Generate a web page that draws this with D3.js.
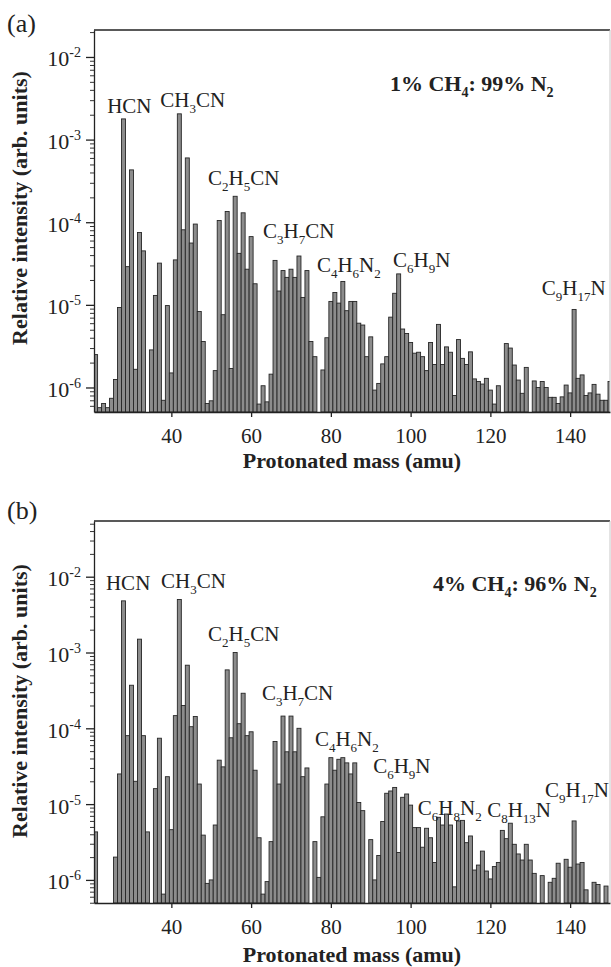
<!DOCTYPE html>
<html>
<head>
<meta charset="utf-8">
<script src="https://cdn.jsdelivr.net/npm/d3@7"></script>
<style>
  body { margin: 0; background: #fff; }
  svg { display: block; }
  text { font-family: "Liberation Serif", "Times New Roman", serif; fill: #222; }
</style>
</head>
<body>
<svg id="chart" width="611" height="967"></svg>
<script>
// protonated masses run 21, 22, ... 150 (one value per amu, 0 = no bar)
const firstMass = 21;

const intensityA = [
  2.5e-6, 5.7e-7, 6.4e-7, 5.7e-7, 7.4e-7, 1.25e-6, 9.3e-6, 1.78e-3, 2.9e-5, 4.3e-4,   // 21-30
  1.66e-6, 7.5e-5, 4.5e-5, 0, 2.85e-6, 1.3e-5, 3.2e-5, 7e-7, 9.8e-6, 1.5e-6,          // 31-40
  3.5e-5, 2.05e-3, 8.1e-5, 6e-4, 5.6e-5, 9.5e-5, 8.3e-6, 3.6e-6, 6.4e-7, 6.9e-7,      // 41-50
  1.6e-6, 1.05e-4, 7.6e-6, 1.35e-4, 1.7e-6, 2.06e-4, 4.2e-5, 1.3e-4, 2.7e-5, 6.7e-5,  // 51-60
  1.8e-5, 6.3e-7, 1.05e-6, 6.7e-7, 1.45e-6, 3.45e-5, 1.47e-5, 2.6e-5, 2.15e-5, 2.7e-5, // 61-70
  2.15e-5, 3.9e-5, 1.23e-5, 2.6e-5, 3.6e-6, 2.36e-6, 0, 1.63e-6, 4.0e-6, 1.1e-5,      // 71-80
  1.41e-5, 1.05e-5, 1.92e-5, 8.5e-6, 1.1e-5, 1.1e-5, 6.0e-6, 5.7e-6, 2.36e-6, 4.1e-6, // 81-90
  9.3e-7, 1.12e-6, 1.93e-6, 2.36e-6, 7.1e-6, 1.38e-5, 2.37e-5, 5.1e-6, 4.5e-6, 3.5e-6, // 91-100
  2.6e-6, 2.67e-6, 2.36e-6, 1.6e-6, 3.5e-6, 1.9e-6, 5.8e-6, 1.9e-6, 3.1e-6, 2.67e-6,  // 101-110
  8.0e-7, 3.8e-6, 2.25e-6, 1.9e-6, 2.7e-6, 1.27e-6, 1.18e-6, 1.1e-6, 1.29e-6, 9.3e-7, // 111-120
  6.3e-7, 1.05e-6, 0, 3.4e-6, 3.0e-6, 1.87e-6, 1.23e-6, 8.5e-7, 1.75e-6, 0,           // 121-130
  1.2e-6, 1.0e-6, 1.18e-6, 1.0e-6, 7.6e-7, 7.6e-7, 6.4e-7, 7.7e-7, 1.07e-6, 8.6e-7,   // 131-140
  8.8e-6, 1.29e-6, 1.42e-6, 8.0e-7, 8.6e-7, 1.09e-6, 8.3e-7, 7.0e-7, 7.0e-7, 1.18e-6  // 141-150
];

const intensityB = [
  4.3e-6, 0, 0, 0, 0, 2.0e-6, 2.5e-5, 4.8e-3, 8e-5, 3.7e-4,                           // 21-30
  2.0e-5, 1.5e-3, 8e-5, 4.3e-6, 0, 1.6e-5, 7.4e-5, 6.5e-7, 2.3e-5, 4.6e-6,            // 31-40
  1.47e-4, 5.0e-3, 2.0e-4, 6.8e-4, 1.05e-4, 1.43e-4, 1.84e-5, 3.9e-6, 9e-7, 1.0e-6,   // 41-50
  5.3e-6, 3.8e-5, 3.1e-5, 5.9e-4, 7.5e-5, 1.0e-3, 1.15e-4, 2.9e-4, 8e-5, 9e-5,        // 51-60
  2.8e-5, 3.6e-6, 6.5e-7, 9.5e-7, 3.2e-6, 6.7e-5, 1.84e-5, 1.45e-4, 4.9e-5, 1.45e-4,  // 61-70
  4.9e-5, 1.0e-4, 2.3e-5, 3.0e-5, 0, 3.2e-6, 1.08e-6, 6.8e-6, 1.84e-5, 4.1e-5,        // 71-80
  2.8e-5, 3.9e-5, 4.1e-5, 3.5e-5, 2.5e-5, 3.5e-5, 1.05e-5, 8.2e-6, 0, 3.4e-6,         // 81-90
  1.0e-6, 2.1e-6, 5.9e-6, 1.39e-5, 1.49e-5, 1.66e-5, 2.3e-6, 1.23e-5, 1.36e-5, 9.7e-6, // 91-100
  4.9e-6, 4.9e-6, 2.7e-6, 4.8e-6, 3.6e-6, 1.7e-6, 6.7e-6, 5.3e-6, 7.4e-6, 5.3e-6,     // 101-110
  8.1e-7, 6.0e-6, 6.1e-6, 3.1e-6, 3.8e-6, 1.35e-6, 1.57e-6, 2.4e-6, 1.31e-6, 1.03e-6, // 111-120
  1.5e-6, 1.7e-6, 4.5e-6, 3.5e-6, 5.6e-6, 2.95e-6, 2.2e-6, 1.83e-6, 2.95e-6, 1.83e-6, // 121-130
  1.22e-6, 0, 1.14e-6, 0, 9.3e-7, 1.05e-6, 1.66e-6, 0, 1.87e-6, 1.47e-6,              // 131-140
  6.0e-6, 1.62e-6, 1.7e-6, 7.4e-7, 0, 9.3e-7, 8.7e-7, 0, 8.3e-7, 0                    // 141-150
];

const massTicks = [40, 60, 80, 100, 120, 140];
const decadeTicks = [1e-6, 1e-5, 1e-4, 1e-3, 1e-2];
const decadeLabels = ["-6", "-5", "-4", "-3", "-2"];

// peak assignments, anchored at (mass, intensity) of the text start / baseline
const labelsA = [
  { text: "HCN", mass: 23.9, value: 2.1e-3 },
  { text: "CH_3CN", mass: 37.2, value: 2.5e-3 },
  { text: "C_2H_5CN", mass: 49.2, value: 2.85e-4 },
  { text: "C_3H_7CN", mass: 63.0, value: 6.5e-5 },
  { text: "C_4H_6N_2", mass: 76.5, value: 2.5e-5 },
  { text: "C_6H_9N", mass: 95.6, value: 2.9e-5 },
  { text: "C_9H_17N", mass: 132.9, value: 1.32e-5 }
];
const labelsB = [
  { text: "HCN", mass: 23.6, value: 6.7e-3 },
  { text: "CH_3CN", mass: 37.4, value: 7.1e-3 },
  { text: "C_2H_5CN", mass: 49.2, value: 1.42e-3 },
  { text: "C_3H_7CN", mass: 62.7, value: 2.36e-4 },
  { text: "C_4H_6N_2", mass: 76.0, value: 5.85e-5 },
  { text: "C_6H_9N", mass: 90.6, value: 2.57e-5 },
  { text: "C_6H_8N_2", mass: 101.8, value: 7.2e-6 },
  { text: "C_8H_13N", mass: 119.2, value: 6.8e-6 },
  { text: "C_9H_17N", mass: 133.7, value: 1.24e-5 }
];

const svg = d3.select("#chart");
const massDomain = [20.6, 150];
const plotLeft = 94, plotRight = 610;

// write a formula like C_2H_5CN with subscripts
function formula(sel, str, subSize, shift) {
  const parts = str.split(/_(\d+)/);
  let down = false;
  parts.forEach((p, i) => {
    if (!p) return;
    const t = sel.append("tspan").text(p);
    if (i % 2 === 1) {
      t.attr("font-size", subSize).attr("dy", down ? 0 : shift);
      down = true;
    } else {
      t.attr("dy", down ? -shift : 0);
      down = false;
    }
  });
}

function drawPanel(cfg) {
  const g = svg.append("g");
  const x = d3.scaleLinear().domain(massDomain).range([plotLeft, plotRight]);
  const y = d3.scaleLog().domain(cfg.yDomain).range([cfg.bottom, cfg.top]);

  g.append("clipPath").attr("id", "clip-" + cfg.id)
    .append("rect")
    .attr("x", plotLeft).attr("y", cfg.top)
    .attr("width", plotRight - plotLeft).attr("height", cfg.bottom - cfg.top);

  const bars = cfg.values
    .map((v, i) => ({ mass: firstMass + i, v: v }))
    .filter(d => d.v > 0);

  g.append("g")
    .attr("clip-path", "url(#clip-" + cfg.id + ")")
    .selectAll("rect")
    .data(bars)
    .join("rect")
    .attr("x", d => x(d.mass - 0.5))
    .attr("width", d => x(d.mass + 0.5) - x(d.mass - 0.5))
    .attr("y", d => y(d.v))
    .attr("height", d => cfg.bottom - y(d.v))
    .attr("fill", "#8c8c8c")
    .attr("stroke", "#262626")
    .attr("stroke-width", 0.9);

  // frame: top line dark, right edge faint
  g.append("line")
    .attr("x1", plotLeft).attr("x2", plotRight)
    .attr("y1", cfg.top).attr("y2", cfg.top)
    .attr("stroke", "#222").attr("stroke-width", 1.3);
  g.append("line")
    .attr("x1", plotRight).attr("x2", plotRight)
    .attr("y1", cfg.top).attr("y2", cfg.bottom)
    .attr("stroke", "#c8c8c8").attr("stroke-width", 1);

  // x axis
  const xAxis = g.append("g")
    .attr("transform", `translate(0,${cfg.bottom})`)
    .call(d3.axisBottom(x).tickValues(massTicks).tickSize(5).tickSizeOuter(0).tickPadding(11));
  xAxis.selectAll("text").attr("font-size", 21).attr("font-family", "Liberation Serif").attr("fill", "#222");
  xAxis.selectAll("path, line").attr("stroke", "#222").attr("stroke-width", 1.3);

  // y axis: minor then major ticks
  const minor = y.ticks().filter(v => Math.abs(Math.log10(v) - Math.round(Math.log10(v))) > 1e-6);
  const yMinor = g.append("g")
    .attr("transform", `translate(${plotLeft},0)`)
    .call(d3.axisLeft(y).tickValues(minor).tickSize(4).tickSizeOuter(0).tickFormat(""));
  yMinor.select(".domain").remove();
  yMinor.selectAll("line").attr("stroke", "#333").attr("stroke-width", 1);

  const yMajor = g.append("g")
    .attr("transform", `translate(${plotLeft},0)`)
    .call(d3.axisLeft(y).tickValues(decadeTicks).tickSize(8).tickSizeOuter(0).tickFormat(""));
  yMajor.selectAll("path, line").attr("stroke", "#222").attr("stroke-width", 1.3);
  yMajor.selectAll(".tick text").remove();
  yMajor.selectAll(".tick").each(function(d, i) {
    const t = d3.select(this).append("text")
      .attr("x", -13).attr("y", 9)
      .attr("text-anchor", "end")
      .attr("font-size", 22).attr("fill", "#222");
    t.append("tspan").text("10");
    t.append("tspan").text(decadeLabels[i]).attr("font-size", 14).attr("dy", -9);
  });

  // axis titles
  g.append("text")
    .attr("transform", `translate(27,${cfg.yTitleY}) rotate(-90)`)
    .attr("text-anchor", "middle")
    .attr("font-size", 22).attr("font-weight", "bold")
    .text("Relative intensity (arb. units)");
  g.append("text")
    .attr("x", 352).attr("y", cfg.xTitleY)
    .attr("text-anchor", "middle")
    .attr("font-size", 22).attr("font-weight", "bold")
    .text("Protonated mass (amu)");

  // panel tag
  g.append("text")
    .attr("x", 7).attr("y", cfg.tagY)
    .attr("font-family", "Liberation Sans, Arial, sans-serif")
    .attr("font-size", 26)
    .text(cfg.tag);

  // gas mixture
  const mix = g.append("text")
    .attr("x", x(cfg.mix.mass)).attr("y", y(cfg.mix.value))
    .attr("font-size", 22).attr("font-weight", "bold");
  formula(mix, cfg.mix.text, 14, 6);

  // peak labels
  cfg.labels.forEach(l => {
    const t = g.append("text")
      .attr("x", x(l.mass)).attr("y", y(l.value))
      .attr("font-size", 21);
    formula(t, l.text, 13, 6);
  });
}

drawPanel({
  id: "a", values: intensityA, labels: labelsA,
  top: 30, bottom: 412, yDomain: [5.05e-7, 2.12e-2],
  yTitleY: 208, xTitleY: 468, tag: "(a)", tagY: 32,
  mix: { text: "1% CH_4: 99% N_2", mass: 94.8, value: 3.9e-3 }
});

drawPanel({
  id: "b", values: intensityB, labels: labelsB,
  top: 521, bottom: 903, yDomain: [4.96e-7, 5.43e-2],
  yTitleY: 701, xTitleY: 962, tag: "(b)", tagY: 519,
  mix: { text: "4% CH_4: 96% N_2", mass: 105.6, value: 6.5e-3 }
});
</script>
</body>
</html>
